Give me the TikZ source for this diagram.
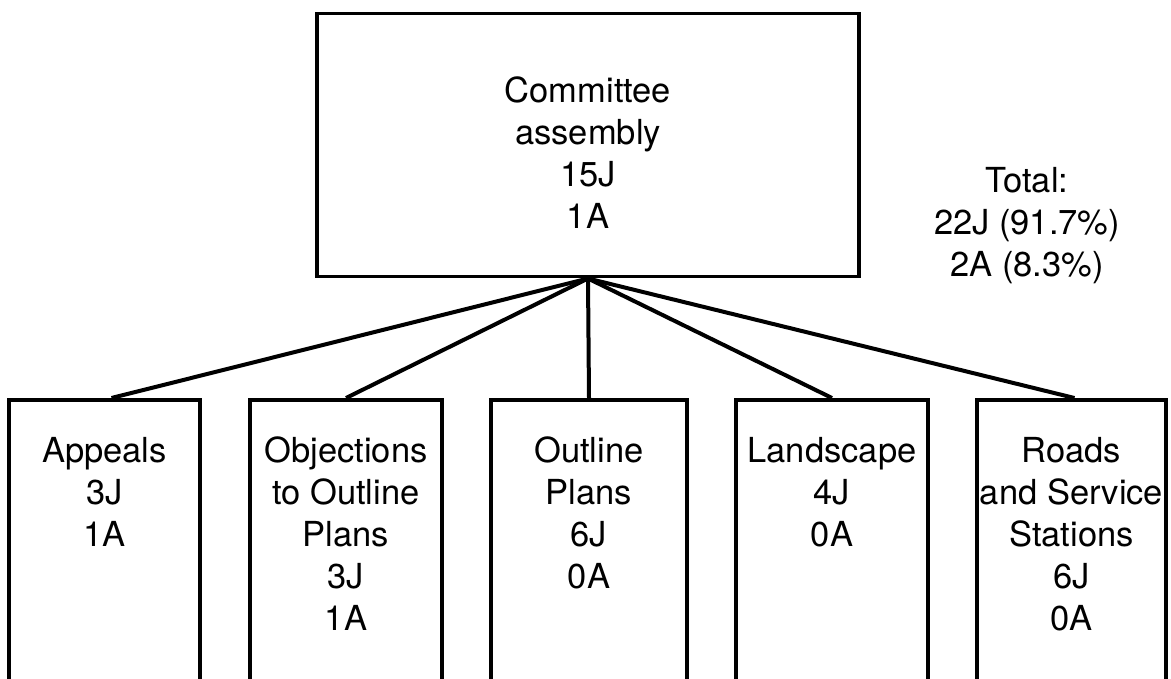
\documentclass[tikz,border=0pt]{standalone}
\usepackage{fontspec}
\setmainfont{TeX Gyre Heros}
\begin{document}
\begin{tikzpicture}[x=1pt,y=-1pt,
  box/.style={draw, line width=3.5pt, inner sep=0pt, anchor=north},
  conn/.style={line width=4pt},
  txt/.style={align=center, inner sep=0pt, anchor=north, font=\fontsize{34.5}{42}\selectfont}]
\useasboundingbox (0,0) rectangle (1171,679);
\fill[white] (0,0) rectangle (1171,679);
\clip (0,0) rectangle (1171,679);
% top box
\node[box, minimum width=542pt, minimum height=263pt] (top) at (588,12) {};
\node[txt] (toptxt) at (588,77) {Committee\\assembly\\15J\\1A};
% bottom boxes (open at the bottom edge of the picture)
\node[box, minimum width=191pt, minimum height=320pt] (b1) at (104.5,398) {};
\node[box, minimum width=192pt, minimum height=320pt] (b2) at (346,398) {};
\node[box, minimum width=196pt, minimum height=320pt] (b3) at (589,398) {};
\node[box, minimum width=192pt, minimum height=320pt] (b4) at (832,398) {};
\node[box, minimum width=189pt, minimum height=320pt] (b5) at (1071.5,398) {};
\node[txt] (t1) at (104.5,437) {Appeals\\3J\\1A};
\node[txt] (t2) at (346,437) {Objections\\to Outline\\Plans\\3J\\1A};
\node[txt] (t3) at (589,437) {Outline\\Plans\\6J\\0A};
\node[txt] (t4) at (832,437) {Landscape\\4J\\0A};
\node[txt] (t5) at (1071.5,437) {Roads\\and Service\\Stations\\6J\\0A};
% total
\node[txt] (total) at (1027,167) {Total:\\22J (91.7\%)\\2A (8.3\%)};
% connectors
\draw[conn] (top.south) -- ([xshift=7pt]b1.north);
\draw[conn] (top.south) -- (b2.north);
\draw[conn] (top.south) -- (b3.north);
\draw[conn] (top.south) -- (b4.north);
\draw[conn] (top.south) -- ([xshift=3pt]b5.north);
\end{tikzpicture}
\end{document}
